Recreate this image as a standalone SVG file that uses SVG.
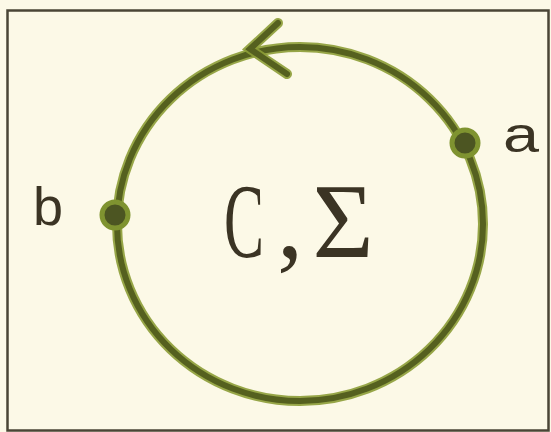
<svg xmlns="http://www.w3.org/2000/svg" width="551" height="432" viewBox="0 0 551 432">
<defs>
<style>
.halo{fill:none;stroke:#8c9c36;stroke-width:10;stroke-linecap:round;stroke-opacity:0.9}
.core{fill:none;stroke:#55601f;stroke-width:6;stroke-linecap:round}
.dot{fill:#4c5522;stroke:#7f9330;stroke-width:5}
.lbl{font-family:"Liberation Sans","DejaVu Sans",sans-serif;fill:#3b3424}
.big{font-family:"Liberation Serif","DejaVu Serif",serif;fill:#3b3424}
</style>
</defs>
<rect x="0" y="0" width="551" height="432" fill="#fcf9e7"/>
<rect x="7.5" y="10.5" width="541" height="420" fill="none" stroke="#4a4536" stroke-width="2.5"/>
<g id="connectors">
<ellipse class="halo" cx="300" cy="224" rx="183" ry="177"/>
<ellipse class="core" cx="300" cy="224" rx="183" ry="177"/>
<path class="halo" d="M278,23 L250,49 L287,74"/>
<path class="core" d="M278,23 L250,49 L287,74"/>
</g>
<g id="node-a">
<circle class="dot" cx="465" cy="143" r="13"/>
<text class="lbl" x="503" y="152" font-size="50" textLength="36" lengthAdjust="spacingAndGlyphs">a</text>
</g>
<g id="node-b">
<circle class="dot" cx="115" cy="215" r="13"/>
<text class="lbl" x="33" y="225" font-size="54">b</text>
</g>
<g id="label-center">
<text class="big" x="224" y="257" font-size="105"><tspan textLength="40" lengthAdjust="spacingAndGlyphs">C</tspan><tspan dx="13" word-spacing="-17">, Σ</tspan></text>
</g>
</svg>
